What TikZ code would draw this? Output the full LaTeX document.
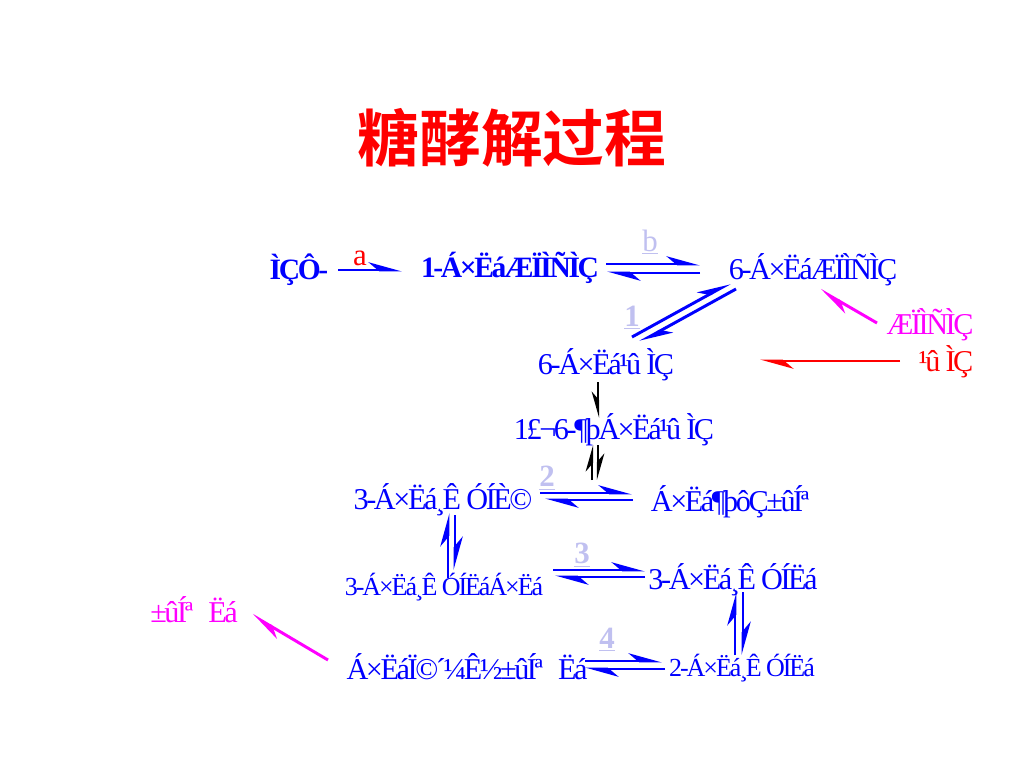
\documentclass[tikz,border=0pt]{standalone}
\usepackage{fontspec}
\setmainfont{Liberation Serif}
\newfontfamily\chemfont[LetterSpace=-8]{Liberation Serif}
\newfontfamily\cjk{Noto Sans CJK SC Bold}
\usetikzlibrary{arrows.meta, calc}
\definecolor{lavender}{RGB}{192,192,240}
\definecolor{magentapink}{RGB}{255,0,255}
\tikzset{
    my-chem/.style={
        text=blue, inner sep=0pt, font=\chemfont\fontsize{21.5}{21.5}\selectfont
    },
    my-chem-bold/.style={
        my-chem, font=\chemfont\fontsize{21}{21}\selectfont\bfseries
    },
    my-chem-small/.style={
        my-chem, font=\chemfont\fontsize{18.5}{18.5}\selectfont
    },
    my-step-label/.style={
        text=lavender, inner sep=0pt, font=\fontsize{22}{22}\selectfont\bfseries
    },
    my-half-arrow/.style={
        draw=blue, line width=2.1pt, -{Stealth[harpoon, length=20pt, width=11pt]}
    },
    my-thin-half-arrow/.style={
        draw=black, line width=1.6pt, -{Stealth[harpoon, length=16pt, width=9pt]}
    },
}

\begin{document}
\begin{tikzpicture}[x=0.025cm, y=-0.025cm]
        \useasboundingbox (0,0) rectangle (1024,768);

        % TITLE
        \node[text=red, inner sep=0pt, font=\cjk\fontsize{44}{44}\selectfont] (TITLE) at (512,138) {糖酵解过程};

        % FIRST ROW
        \node[my-chem-bold] (GLYCOGEN) at (299,270) {ÌÇÔ-};
        \node[my-chem-bold] (G1P)      at (510,268) {1-Á×ËáÆÏÌÑÌÇ};
        \node[my-chem]      (G6P)      at (813,270) {6-Á×ËáÆÏÌÑÌÇ};
        \node[text=red, inner sep=0pt, font=\fontsize{22}{22}\selectfont] (A) at (360,258) {a};
        \node[my-step-label, font=\fontsize{22}{22}\selectfont] (B) at (650,242) {\underline{b}};

        % SIDE SUGARS
        \node[my-chem, text=magentapink] (GLC) at (930,325) {ÆÏÌÑÌÇ};
        \node[my-chem, text=red]         (FRU) at (946,362) {¹û ÌÇ};
        \node[my-chem, text=magentapink] (PYR) at (194,610) {±ûÍª\enspace Ëá};

        % HEXOSE PHOSPHATES
        \node[my-step-label] (STEP1) at (632,318) {\underline{1}};
        \node[my-chem] (F6P)   at (606,365) {6-Á×Ëá¹û ÌÇ};
        \node[my-chem] (F16BP) at (614,430) {1£¬6-¶þÁ×Ëá¹û ÌÇ};

        % TRIOSES
        \node[my-step-label] (STEP2) at (547,478) {\underline{2}};
        \node[my-chem]       (GAP)   at (443,500) {3-Á×Ëá¸Ê ÓÍÈ©};
        \node[my-chem]       (DHAP)  at (730,502) {Á×Ëá¶þôÇ±ûÍª};
        \node[my-step-label] (STEP3) at (582,555) {\underline{3}};
        \node[my-chem-small] (BPG)   at (444,587) {3-Á×Ëá¸Ê ÓÍËáÁ×Ëá};
        \node[my-chem]       (PG3)   at (733,580) {3-Á×Ëá¸Ê ÓÍËá};
        \node[my-step-label] (STEP4) at (607,640) {\underline{4}};
        \node[my-chem]       (PEP)   at (467,667) {Á×ËáÏ©´¼Ê½±ûÍª\enspace Ëá};
        \node[my-chem-small] (PG2)   at (742,668) {2-Á×Ëá¸Ê ÓÍËá};

        % ARROW END POINTS
        \coordinate (AIN)   at (338,270);
        \coordinate (AOUT)  at (402,270);
        \coordinate (BL)    at (606,264);
        \coordinate (BR)    at (700,264);
        \coordinate (BL2)   at (607,273);
        \coordinate (BR2)   at (700,273);
        \coordinate (D1A)   at (632,337);
        \coordinate (D1B)   at (730,283);
        \coordinate (D2A)   at (640,342);
        \coordinate (D2B)   at (736,289);
        \coordinate (GLCIN) at (877,323);
        \coordinate (GLCOUT) at (820,290);
        \coordinate (FRUIN) at (900,361);
        \coordinate (FRUOUT) at (760,361);

        % ARROWS, FIRST ROW
        \draw[my-half-arrow] (AIN) -- (AOUT);
        \draw[my-half-arrow] (BL)  -- (BR);
        \draw[my-half-arrow] (BR2) -- (BL2);
        \draw[my-half-arrow] (D1A) -- (D1B);
        \draw[my-half-arrow] (D2B) -- (D2A);
        \draw[my-half-arrow, draw=magentapink] (GLCIN) -- (GLCOUT);
        \draw[my-half-arrow, draw=red]         (FRUIN) -- (FRUOUT);

        % ARROWS, HEXOSE TO TRIOSE
        \draw[my-thin-half-arrow, -{Stealth[harpoon, swap, length=16pt, width=9pt]}] (598,382) -- (598,418);
        \draw[my-thin-half-arrow] (592,480) -- (592,445);
        \draw[my-thin-half-arrow] (598,445) -- (598,480);

        % ARROWS, TRIOSES
        \draw[my-half-arrow] (540,493) -- (632,493);
        \draw[my-half-arrow] (633,500) -- (545,500);
        \draw[my-half-arrow] (448,578) -- (448,513);
        \draw[my-half-arrow] (455,515) -- (455,570);
        \draw[my-half-arrow] (553,570) -- (645,570);
        \draw[my-half-arrow] (645,577) -- (555,577);
        \draw[my-half-arrow] (735,655) -- (735,592);
        \draw[my-half-arrow] (743,592) -- (743,655);
        \draw[my-half-arrow] (585,661) -- (662,661);
        \draw[my-half-arrow] (665,669) -- (585,669);
        \draw[my-half-arrow, draw=magentapink] (328,660) -- (252,615);

    \end{tikzpicture}
\end{document}
